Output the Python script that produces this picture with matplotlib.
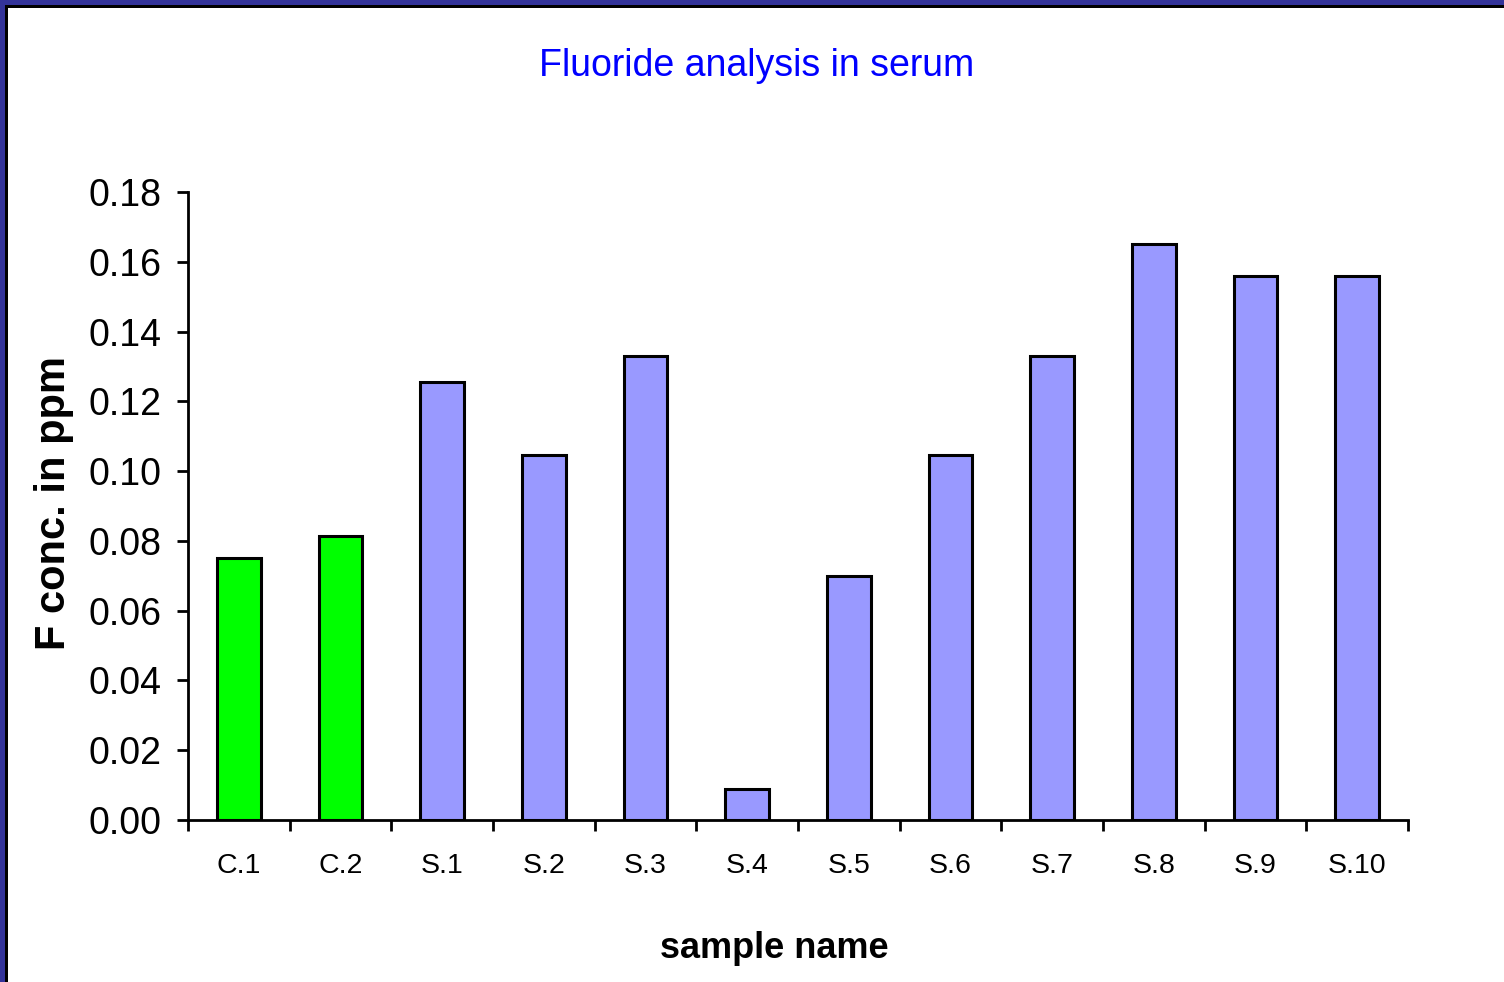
import matplotlib.pyplot as plt
from matplotlib.patches import Rectangle
import numpy as np

plt.rcParams['font.family'] = ['Liberation Sans', 'DejaVu Sans']

# sample names and measured fluoride
samples = ['C.1', 'C.2', 'S.1', 'S.2', 'S.3', 'S.4', 'S.5', 'S.6', 'S.7', 'S.8', 'S.9', 'S.10']
f_conc = [0.075, 0.0815, 0.1255, 0.1045, 0.133, 0.009, 0.070, 0.1045, 0.133, 0.165, 0.156, 0.156]
bar_colors = ['#00FF00', '#00FF00'] + ['#9999FF'] * 10
yticks = [0.00, 0.02, 0.04, 0.06, 0.08, 0.10, 0.12, 0.14, 0.16, 0.18]

fig = plt.figure(figsize=(15.04, 9.82), dpi=100)
ax = fig.add_axes([188 / 1504, 1 - 820 / 982, 1220 / 1504, 628 / 982])

x = np.arange(len(samples))
ax.bar(x, f_conc, width=0.43, color=bar_colors, edgecolor='black', linewidth=2.2, zorder=3)

ax.set_xlim(-0.5, len(samples) - 0.5)
ax.set_ylim(0, 0.18)
ax.set_yticks(yticks)
ax.set_yticklabels(['%.2f' % v for v in yticks], fontsize=27)
ax.set_xticks(x)
ax.set_xticklabels(samples, fontsize=20.5)
ax.set_xticks(np.arange(len(samples) + 1) - 0.5, minor=True)
ax.tick_params(axis='x', which='major', length=0, pad=24)
ax.tick_params(axis='x', which='minor', length=8, width=2, direction='out')
ax.tick_params(axis='y', length=8, width=2, direction='out', pad=11)

for s in ['top', 'right']:
    ax.spines[s].set_visible(False)
for s in ['left', 'bottom']:
    ax.spines[s].set_linewidth(2)

fig.text(757 / 1504, 1 - 66 / 982, 'Fluoride analysis in serum', color='#0000FF',
         fontsize=27, ha='center', va='center')
fig.text(774 / 1504, 1 - 948 / 982, 'sample name', fontsize=26, fontweight='bold',
         ha='center', va='center')
fig.text(54 / 1504, 1 - 503 / 982, 'F conc. in ppm', fontsize=30, fontweight='bold',
         rotation=90, ha='center', va='center')

# slide frame: navy outer strip and black inner line, left and top
fig.add_artist(Rectangle((0, 0), 5 / 1504, 1, transform=fig.transFigure, color='#333399', lw=0))
fig.add_artist(Rectangle((0, 1 - 5 / 982), 1, 5 / 982, transform=fig.transFigure, color='#333399', lw=0))
fig.add_artist(Rectangle((5 / 1504, 0), 3 / 1504, 1 - 5 / 982, transform=fig.transFigure, color='black', lw=0))
fig.add_artist(Rectangle((5 / 1504, 1 - 8 / 982), 1, 3 / 982, transform=fig.transFigure, color='black', lw=0))

fig.savefig('out.png', dpi=100)
